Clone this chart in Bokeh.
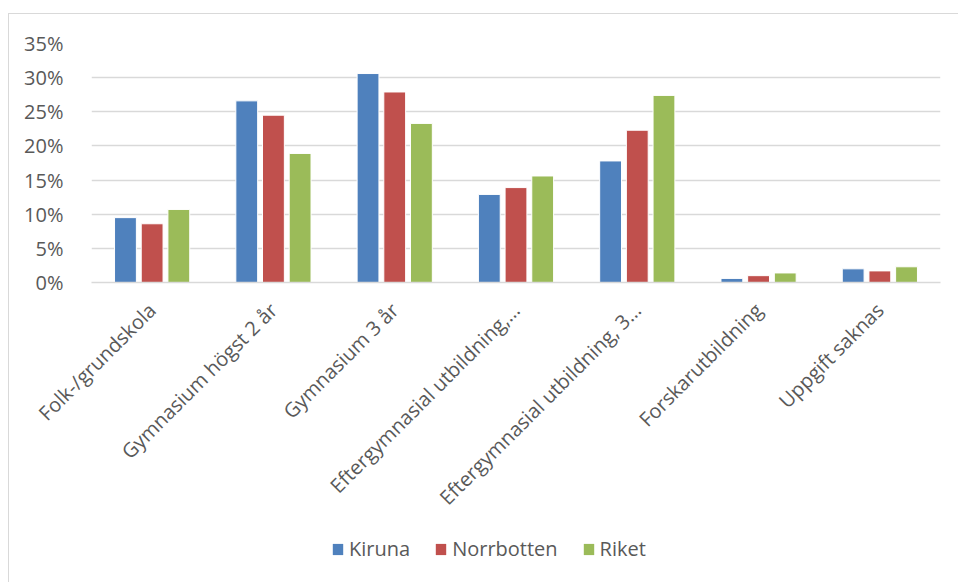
import math
from bokeh.plotting import figure
from bokeh.layouts import column
from bokeh.models import (ColumnDataSource, FactorRange, Range1d, FixedTicker,
                          PrintfTickFormatter, Legend, LegendItem)
from bokeh.transform import dodge
from bokeh.embed import file_html
from bokeh.resources import INLINE

categories = ["Folk-/grundskola", "Gymnasium högst 2 år", "Gymnasium 3 år",
              "Eftergymnasial utbildning,…", "Eftergymnasial utbildning, 3…",
              "Forskarutbildning", "Uppgift saknas"]
kiruna = [9.5, 26.6, 30.6, 12.9, 17.8, 0.6, 2.0]
norrbotten = [8.6, 24.5, 27.9, 13.9, 22.3, 1.0, 1.7]
riket = [10.7, 18.9, 23.3, 15.6, 27.4, 1.4, 2.3]
series_names = ["Kiruna", "Norrbotten", "Riket"]
colors = ["#4f81bd", "#c0504d", "#9bbb59"]
y_ticks = [0, 5, 10, 15, 20, 25, 30, 35]

source = ColumnDataSource(data=dict(cat=categories, Kiruna=kiruna,
                                    Norrbotten=norrbotten, Riket=riket))

FONT = "Open Sans"
GRAY = "#595959"
BORDER = "1px solid #d9d9d9"

p = figure(x_range=FactorRange(*categories), y_range=Range1d(0, 35),
           width=950, height=510, output_backend="svg", toolbar_location=None,
           min_border_left=82, min_border_right=19, min_border_top=29,
           min_border_bottom=242)
p.margin = (13, 0, 0, 8)
p.styles = {"border-left": BORDER, "border-top": BORDER}
p.x_range.range_padding = 0
p.outline_line_color = None

offsets = [-0.22, 0.0, 0.22]
for name, col, off in zip(series_names, colors, offsets):
    p.vbar(x=dodge("cat", off, range=p.x_range), top=name, width=0.18,
           source=source, fill_color=col, line_color="white", line_width=1)

p.yaxis.ticker = FixedTicker(ticks=y_ticks)
p.yaxis.formatter = PrintfTickFormatter(format="%d%%")
p.yaxis.axis_line_color = None
p.yaxis.major_tick_line_color = None
p.yaxis.minor_tick_line_color = None
p.yaxis.major_label_text_font = FONT
p.yaxis.major_label_text_font_size = "20px"
p.yaxis.major_label_text_color = GRAY
p.yaxis.major_label_standoff = 22

p.xaxis.axis_line_color = "#d9d9d9"
p.xaxis.axis_line_width = 1.5
p.xaxis.major_tick_line_color = None
p.xaxis.minor_tick_line_color = None
p.xaxis.major_label_orientation = math.pi / 4
p.xaxis.major_label_text_font = FONT
p.xaxis.major_label_text_font_size = "20px"
p.xaxis.major_label_text_color = GRAY
p.xaxis.major_label_standoff = 18

p.xgrid.grid_line_color = None
p.ygrid.ticker = FixedTicker(ticks=y_ticks)
p.ygrid.grid_line_color = "#d9d9d9"
p.ygrid.grid_line_width = 1.5

# Legend strip below the chart (hidden copies of the series supply the swatches)
lg = figure(x_range=FactorRange(*categories), y_range=Range1d(0, 35), width=950, height=59,
            output_backend="svg", toolbar_location=None,
            x_axis_location=None, y_axis_location=None,
            min_border_left=0, min_border_right=0, min_border_top=0, min_border_bottom=0)
lg.margin = (0, 0, 0, 8)
lg.styles = {"border-left": BORDER}
lg.outline_line_color = None
lg.grid.visible = False
items = []
for name, col in zip(series_names, colors):
    r = lg.vbar(x="cat", top=name, width=0.18, source=source,
                fill_color=col, line_color=None, visible=False)
    items.append(LegendItem(label=name, renderers=[r]))
legend = Legend(items=items, orientation="horizontal", location=(240, 20),
                glyph_width=13, glyph_height=14, label_standoff=5, spacing=24,
                padding=0, margin=0, border_line_color=None, background_fill_alpha=0,
                inactive_fill_alpha=0,
                label_text_font=FONT, label_text_font_size="20px", label_text_color=GRAY)
lg.add_layout(legend, "center")

layout = column(p, lg, spacing=0)
open("out.html", "w").write(file_html(layout, INLINE))
